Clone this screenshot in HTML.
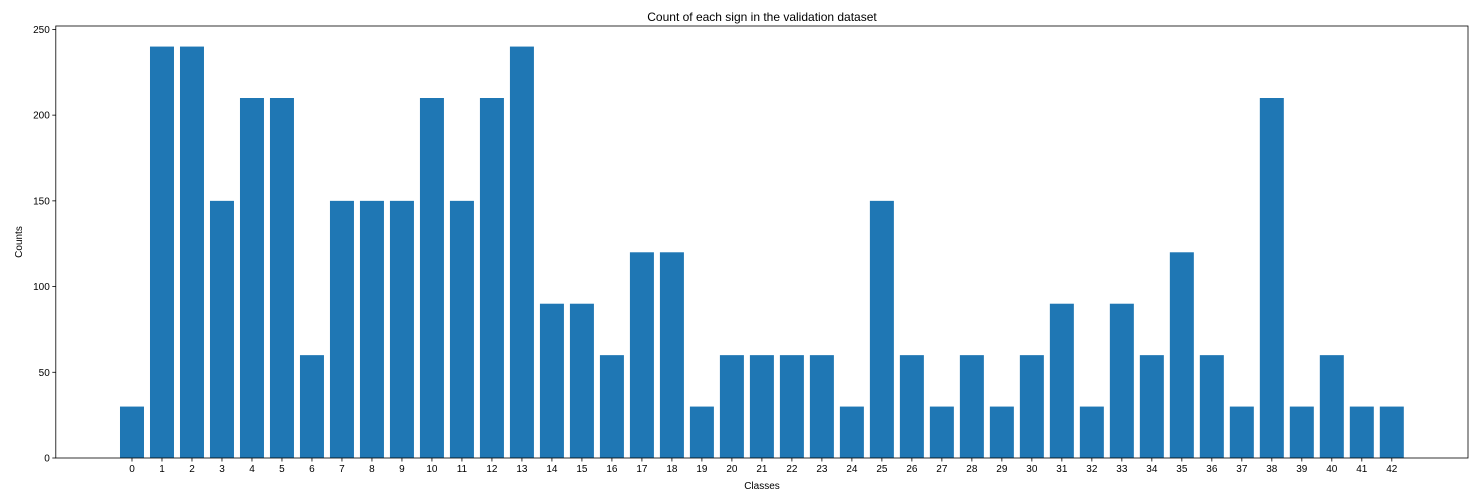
<!DOCTYPE html>
<html><head><meta charset="utf-8"><style>
body{margin:0;background:#fff;}
svg{font-family:"Liberation Sans","DejaVu Sans",sans-serif;}
</style></head><body>
<svg id="chart" width="1484" height="495" xmlns="http://www.w3.org/2000/svg">
<text x="762" y="21" font-size="12" text-anchor="middle">Count of each sign in the validation dataset</text>
<text x="762" y="489" font-size="10" text-anchor="middle">Classes</text>
<text x="22" y="242" font-size="10" text-anchor="middle" transform="rotate(-90 22 242)">Counts</text>
<g id="bars"></g>
<g id="axes"></g>
</svg>
<script>
const categories = Array.from({length:43},(_,i)=>String(i));
const counts = [30,240,240,150,210,210,60,150,150,150,210,150,210,240,90,90,60,120,120,30,60,60,60,60,30,150,60,30,60,30,60,90,30,90,60,120,60,30,210,30,60,30,30];
const yTicks = [0,50,100,150,200,250];
const L=55.8,R=1468,T=26,B=458;
const n=categories.length;
const xmin=-0.4-0.05*(n-1+0.8), xmax=n-1+0.4+0.05*(n-1+0.8);
const ymax=Math.max(...counts)*1.05;
const x=v=>L+(v-xmin)/(xmax-xmin)*(R-L);
const y=v=>B-v/ymax*(B-T);
const ns="http://www.w3.org/2000/svg";
const bars=document.getElementById('bars'), axes=document.getElementById('axes');
function mk(tag,attrs,parent){const e=document.createElementNS(ns,tag);for(const k in attrs)e.setAttribute(k,attrs[k]);parent.appendChild(e);return e;}
counts.forEach((c,i)=>{
  const r=mk('rect',{x:x(i-0.4),y:y(c),width:x(0.4)-x(-0.4),height:B-y(c),fill:'#1f77b4'},bars);
  
  
  const t=mk('line',{x1:x(i),x2:x(i),y1:B,y2:B+3.5,stroke:'#000','stroke-width':0.8},axes);
  
  
  const l=mk('text',{x:x(i),y:B+14,'font-size':10,'text-anchor':'middle'},axes);
  l.textContent=categories[i];
  
  
});
yTicks.forEach(v=>{
  const t=mk('line',{x1:L-3.5,x2:L,y1:y(v),y2:y(v),stroke:'#000','stroke-width':0.8},axes);
  
  
  const l=mk('text',{x:L-6,y:y(v)+3.5,'font-size':10,'text-anchor':'end'},axes);
  l.textContent=v;
  
  
});
const f=mk('rect',{x:L,y:T,width:R-L,height:B-T,fill:'none',stroke:'#000','stroke-width':0.8},axes);


</script>
</body></html>
